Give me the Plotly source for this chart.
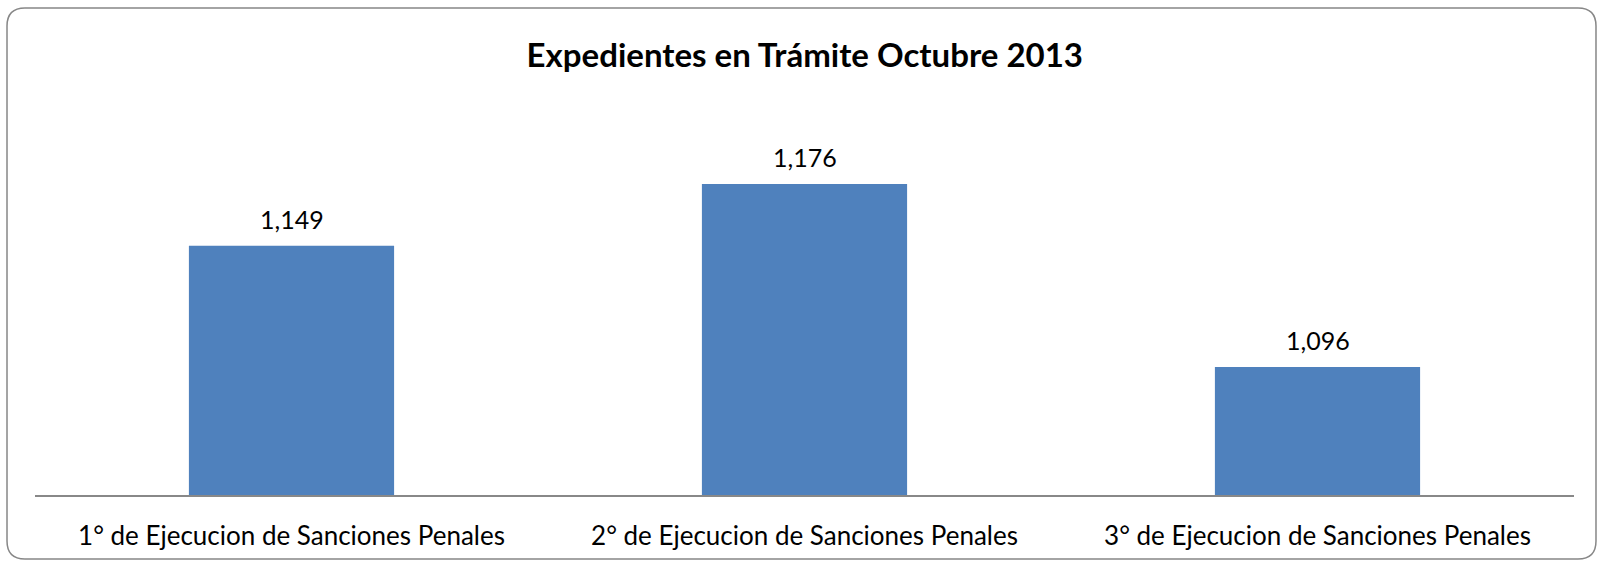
import plotly.graph_objects as go

categorias = ["1° de Ejecucion de Sanciones Penales",
              "2° de Ejecucion de Sanciones Penales",
              "3° de Ejecucion de Sanciones Penales"]
expedientes = [1149, 1176, 1096]
titulo = "Expedientes en Trámite Octubre 2013"

W, H = 1600, 561
ML, MR, MT, MB = 35, 26, 129, 66
FONT = "Lato"


def px2paper(x, y):
    # pixel position of the page -> paper coords (for the outer rounded frame)
    return ((x - ML) / (W - ML - MR), (H - MB - y) / (H - MT - MB))


def rounded_rect(x0, y0, x1, y1, r):
    pts = [("M", x0 + r, y0), ("L", x1 - r, y0), ("Q", x1, y0, x1, y0 + r),
           ("L", x1, y1 - r), ("Q", x1, y1, x1 - r, y1), ("L", x0 + r, y1),
           ("Q", x0, y1, x0, y1 - r), ("L", x0, y0 + r), ("Q", x0, y0, x0 + r, y0)]
    out = []
    for p in pts:
        cmd, coords = p[0], p[1:]
        s = []
        for i in range(0, len(coords), 2):
            a, b = px2paper(coords[i], coords[i + 1])
            s.append(f"{a:.5f},{b:.5f}")
        out.append(cmd + " ".join(s))
    return " ".join(out) + " Z"


fig = go.Figure()
fig.add_trace(go.Bar(x=categorias, y=expedientes, marker_color="#4F81BD",
                     marker_line_width=0, width=0.4))

for c, v in zip(categorias, expedientes):
    fig.add_annotation(x=c, y=v, text=f"{v:,}", showarrow=False,
                       yanchor="bottom", yshift=10,
                       font=dict(family=FONT, size=25, color="black"))

fig.add_shape(type="path", xref="paper", yref="paper",
              path=rounded_rect(7, 8, 1596, 559, 18),
              line=dict(color="#878787", width=1.5), layer="below")

fig.update_layout(
    width=W, height=H,
    margin=dict(l=ML, r=MR, t=MT, b=MB),
    paper_bgcolor="white", plot_bgcolor="white",
    showlegend=False,
    title=dict(text=f"<b>{titulo}</b>", x=0.503, xanchor="center",
               y=1 - 55 / H, yanchor="middle",
               font=dict(family=FONT, size=33, color="black")),
    bargap=0.6,
    xaxis=dict(showline=True, linecolor="#888888", linewidth=1.5, ticks="",
               tickfont=dict(family=FONT, size=26, color="black"),
               ticklabelstandoff=17, showgrid=False, automargin=False),
    yaxis=dict(range=[1040, 1200], visible=False, showgrid=False),
)

fig.write_html("out.html", config={"displayModeBar": False},
               post_script="document.body.style.margin='0';")
